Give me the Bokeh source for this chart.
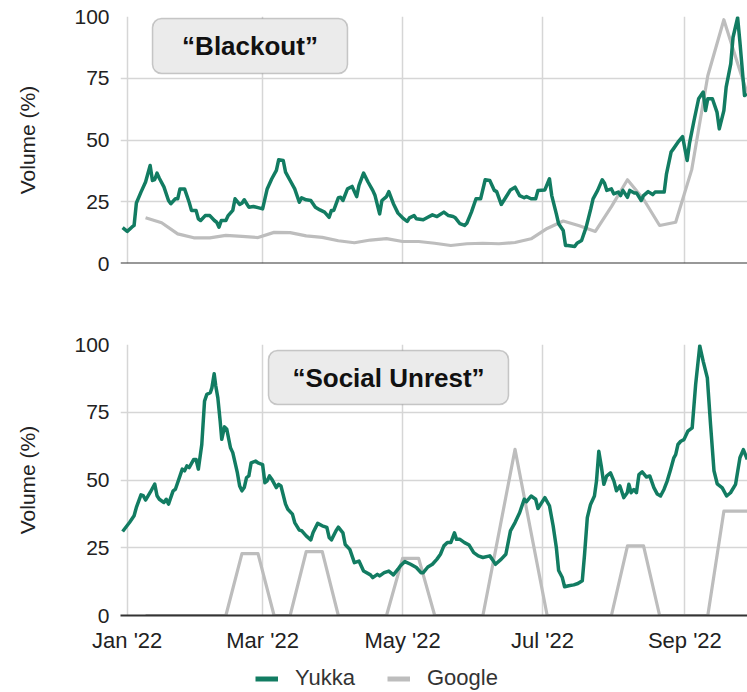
import pandas as pd
from bokeh.plotting import figure
from bokeh.models import (Range1d, FixedTicker, DatetimeTickFormatter, BoxAnnotation,
                          Label, Legend, LegendItem, ColumnDataSource, Span)
from bokeh.layouts import column
from bokeh.embed import file_html
from bokeh.resources import INLINE

# ---------------- data (days since 2022-01-01, volume %) ----------------
blackout_yukka_days = [-2, 0, 2, 3, 4, 6, 8, 10, 11, 12, 13, 14, 16, 18, 19, 21, 22, 23, 25, 27,
                       28, 30, 31, 32, 34, 36, 38, 39, 40, 41, 43, 44, 46, 47, 49, 50, 51, 53, 55, 57,
                       59, 61, 63, 65, 66, 68, 69, 71, 73, 75, 76, 78, 80, 82, 84, 86, 88, 89, 90, 92,
                       93, 94, 96, 98, 100, 101, 103, 105, 107, 108, 110, 111, 113, 114, 116, 118, 120, 122, 123, 125,
                       126, 129, 131, 133, 135, 138, 140, 142, 143, 145, 147, 148, 150, 152, 154, 156, 158, 160, 161, 163,
                       165, 167, 169, 171, 173, 174, 176, 178, 179, 182, 184, 185, 187, 188, 190, 191, 192, 195, 196, 198,
                       200, 202, 203, 205, 207, 208, 209, 211, 212, 214, 215, 216, 218, 219, 221, 222, 224, 225, 227, 229,
                       230, 232, 234, 235, 237, 238, 240, 242, 244, 245, 247, 249, 251, 252, 253, 255, 257, 258, 260, 261,
                       263, 264, 266, 267, 269, 270]
blackout_yukka_vals = [14.5, 13.0, 14.7, 15.4, 24.5, 28.9, 33.0, 39.7, 33.6, 34.0, 36.6, 34.5, 31.0, 25.5, 24.2, 26.2, 26.2, 30.2, 30.2, 24.8,
                       21.5, 21.5, 18.1, 17.4, 19.4, 19.4, 17.4, 16.7, 14.7, 17.4, 17.4, 19.4, 21.5, 26.2, 23.9, 24.4, 25.8, 22.8, 23.1, 22.6,
                       22.1, 30.2, 34.3, 37.7, 42.0, 41.7, 37.0, 33.6, 30.2, 24.8, 26.6, 25.8, 25.5, 22.8, 21.7, 20.8, 18.7, 21.5, 21.5, 26.6,
                       26.8, 25.5, 30.2, 31.2, 27.1, 31.6, 36.6, 32.9, 29.6, 27.5, 20.1, 25.5, 27.1, 29.1, 24.2, 20.4, 18.5, 17.0, 18.5, 19.4,
                       18.1, 17.7, 18.7, 19.7, 19.0, 20.8, 19.4, 19.0, 18.5, 16.1, 15.4, 16.3, 20.8, 26.2, 26.2, 33.9, 33.6, 29.6, 29.1, 23.9,
                       26.8, 29.8, 30.9, 27.5, 26.6, 27.1, 26.2, 26.2, 29.6, 29.8, 34.3, 27.5, 20.1, 16.1, 13.4, 7.3, 7.3, 6.9, 8.2, 9.3,
                       14.7, 22.1, 26.2, 29.6, 33.9, 32.5, 29.6, 30.2, 28.2, 28.9, 27.5, 29.6, 26.8, 29.6, 28.5, 28.5, 25.5, 27.5, 29.1, 27.9,
                       28.9, 28.9, 28.9, 36.3, 45.1, 46.4, 49.1, 51.4, 41.7, 48.5, 57.9, 66.7, 69.4, 61.9, 66.7, 66.7, 61.3, 54.5, 61.9, 71.4,
                       80.8, 91.6, 99.5, 89.6, 68.0, 68.7]

blackout_google_days = [8, 15, 22, 29, 36, 43, 50, 57, 64, 71, 78, 85, 92, 99, 106, 113, 120, 127, 134, 141,
                        148, 155, 162, 169, 176, 183, 190, 197, 204, 211, 218, 225, 232, 239, 246, 253, 260, 267, 274]
blackout_google_vals = [18.5, 16.5, 12.0, 10.4, 10.4, 11.4, 11.0, 10.5, 12.6, 12.5, 11.2, 10.6, 9.2, 8.4, 9.5, 10.1, 8.9, 8.9, 8.2, 7.3,
                        8.0, 8.2, 8.0, 8.5, 10.0, 14.2, 17.2, 15.3, 13.0, 23.0, 33.9, 26.0, 15.4, 16.7, 38.0, 76.0, 98.7, 78.0, 58.0]

unrest_yukka_days = [-2, 1, 3, 4, 6, 7, 8, 10, 12, 13, 14, 16, 17, 18, 20, 21, 23, 24, 25, 26,
                     27, 29, 30, 31, 32.5, 33.7, 34.7, 36.2, 36.9, 37.9, 38.6, 39.5, 40.5, 41.2, 42.4, 43.4, 45, 46, 48, 49,
                     50, 51, 52, 53, 54, 56, 57, 59, 60, 61, 62, 63, 65, 66, 67, 69, 70, 72, 73, 75,
                     76, 78, 80, 81, 83, 85, 87, 88, 89, 91, 92, 94, 95, 97, 99, 101, 103, 106, 107, 109,
                     110, 112, 114, 116, 118, 119, 121, 123.5, 126, 128, 129, 131, 133, 135, 136.5, 138, 139.5, 141, 142.6, 143.5,
                     145, 147, 149, 151, 153, 155, 158, 159, 160.5, 163, 165, 167, 169, 171, 173, 174, 176, 178, 179, 182,
                     184, 185.6, 187, 188, 189.6, 190.6, 192.4, 194.6, 196.4, 198.3, 199.3, 200.5, 201.9, 203.6, 204.5, 205.5, 206.6, 207.7, 208.9, 210.6,
                     212.1, 213.2, 214.7, 216.4, 217.9, 218.6, 219.6, 220.8, 221.9, 223, 224.4, 226.3, 227.7, 229.5, 231, 232.4, 233.9, 235.3, 236.8, 238.2,
                     239, 240, 241.2, 242.6, 244.3, 246.2, 247.7, 249.5, 251, 252.8, 254.2, 255.7, 257.1, 259.3, 261.2, 262.9, 265.1, 267, 268.5, 270.2]
unrest_yukka_vals = [31.0, 34.3, 36.8, 39.9, 44.5, 44.2, 42.6, 45.4, 48.5, 44.2, 42.9, 41.7, 42.9, 41.1, 46.0, 46.6, 51.5, 54.0, 53.4, 55.2,
                     54.6, 57.6, 57.6, 54.0, 63.1, 79.1, 81.6, 82.2, 84.0, 89.2, 84.7, 80.3, 71.8, 65.0, 69.6, 68.7, 61.9, 60.1, 52.7, 47.8,
                     46.0, 47.2, 50.9, 51.5, 56.3, 57.0, 56.3, 55.7, 49.0, 49.7, 51.5, 50.3, 47.2, 48.4, 47.8, 41.1, 39.2, 37.4, 34.3, 31.5,
                     31.3, 29.4, 27.9, 30.6, 34.0, 33.1, 32.5, 28.8, 27.9, 31.3, 32.6, 30.5, 26.2, 24.4, 19.5, 20.1, 16.4, 15.0, 14.0, 15.2,
                     14.6, 15.8, 16.4, 15.0, 17.1, 18.3, 19.9, 18.9, 17.7, 15.8, 15.8, 17.9, 18.9, 20.8, 22.6, 25.7, 26.9, 26.9, 30.5, 28.1,
                     28.1, 26.9, 26.0, 23.2, 22.0, 21.4, 22.0, 20.8, 18.9, 20.8, 22.6, 31.2, 34.3, 37.9, 42.9, 42.0, 44.1, 42.9, 39.5, 43.5,
                     40.5, 33.1, 25.1, 16.6, 14.0, 10.6, 11.0, 11.3, 11.8, 12.8, 22.6, 36.1, 41.0, 44.1, 49.6, 60.6, 55.1, 48.4, 51.4, 52.6,
                     49.6, 46.0, 47.8, 43.5, 45.3, 48.4, 45.3, 46.5, 45.3, 52.0, 53.0, 51.1, 51.5, 47.2, 44.8, 44.1, 46.5, 49.6, 53.9, 58.2,
                     59.4, 63.1, 64.3, 64.9, 68.0, 69.2, 85.2, 99.5, 93.8, 87.7, 70.4, 53.4, 48.6, 47.1, 44.1, 45.3, 48.4, 58.2, 61.2, 57.6]

unrest_google_days = [8, 15, 22, 29, 36, 43, 50, 57, 64, 71, 78, 85, 92, 99, 106, 113, 120, 127, 134, 141,
                      148, 155, 162, 169, 176, 183, 190, 197, 204, 211, 218, 225, 232, 239, 246, 253, 260, 267, 274]
unrest_google_vals = [0, 0, 0, 0, 0, 0, 22.8, 22.8, 0, 0, 23.6, 23.6, 0, 0, 0, 0, 21.1, 21.1, 0, 0,
                      0, 0, 30.6, 61.3, 30.6, 0, 0, 0, 0, 0, 25.7, 25.7, 0, 0, 0, 0, 38.5, 38.5, 38.5]

tick_dates = ["2022-01-01", "2022-03-01", "2022-05-01", "2022-07-01", "2022-09-01"]
y_ticks = [0, 25, 50, 75, 100]
panel_titles = ["\u201cBlackout\u201d", "\u201cSocial Unrest\u201d"]
series_names = ["Yukka", "Google"]

# ---------------- style ----------------
GREEN = "#127c62"
GRAY = "#bdbdbd"
GRID = "#d6d6d6"
FONT = "Liberation Sans"
TXT = "#222222"
W = 747

BASE = pd.Timestamp("2022-01-01")


def to_dates(days):
    return (BASE + pd.to_timedelta(days, unit="D")).to_numpy()


x_range = Range1d(start=(BASE + pd.Timedelta(days=-2.92)).to_pydatetime(),
                  end=(BASE + pd.Timedelta(days=270.3)).to_pydatetime())
x_ticker = FixedTicker(ticks=[pd.Timestamp(d).value // 10**6 for d in tick_dates])
y_ticker = FixedTicker(ticks=y_ticks)


def make_panel(height, border_top, border_bottom, show_xaxis):
    p = figure(width=W, height=height, x_axis_type="datetime", x_range=x_range,
               y_range=Range1d(0, 100), output_backend="svg", toolbar_location=None,
               min_border_left=120, min_border_right=0, min_border_top=border_top,
               min_border_bottom=border_bottom)
    p.outline_line_color = None
    p.background_fill_color = "white"
    p.border_fill_color = "white"
    for g, t in ((p.xgrid, x_ticker), (p.ygrid, y_ticker)):
        g.ticker = t
        g.grid_line_color = GRID
        g.grid_line_width = 1.5
    xa = p.xaxis[0]
    if show_xaxis:
        xa.ticker = x_ticker
        xa.formatter = DatetimeTickFormatter(days="%b '%y", months="%b '%y", years="%b '%y")
        xa.axis_line_color = "#333333"
        xa.axis_line_width = 2
        xa.major_tick_line_color = None
        xa.minor_tick_line_color = None
        xa.major_tick_out = 0
        xa.major_tick_in = 0
        xa.major_label_text_font = FONT
        xa.major_label_text_font_size = "22px"
        xa.major_label_text_color = TXT
        xa.major_label_standoff = 12
    else:
        xa.visible = False
        p.add_layout(Span(location=0, dimension="width", line_color="#333333", line_width=2))
    ya = p.yaxis[0]
    ya.ticker = y_ticker
    ya.axis_line_color = None
    ya.major_tick_line_color = None
    ya.minor_tick_line_color = None
    ya.major_tick_out = 0
    ya.major_tick_in = 0
    ya.major_label_standoff = 11
    ya.major_label_text_font = FONT
    ya.major_label_text_font_size = "21px"
    ya.major_label_text_color = TXT
    ya.axis_label = "Volume (%)"
    ya.axis_label_text_font = FONT
    ya.axis_label_text_font_size = "21px"
    ya.axis_label_text_font_style = "normal"
    ya.axis_label_text_color = TXT
    ya.axis_label_standoff = 32
    return p


def add_title_box(p, text, left, right, top, bottom):
    p.add_layout(BoxAnnotation(left=left, right=right, top=top, bottom=bottom,
                               left_units="screen", right_units="screen",
                               top_units="screen", bottom_units="screen",
                               fill_color="#ebebeb", fill_alpha=1.0,
                               line_color="#555555", line_width=1.5, border_radius=9))
    p.add_layout(Label(x=(left + right) / 2, y=(top + bottom) / 2, x_units="screen", y_units="screen",
                       text=text, text_font=FONT, text_font_style="bold", text_font_size="26px",
                       text_align="center", text_baseline="middle", text_color="#111111"))


# ---------------- top panel ----------------
p1 = make_panel(293, 16, 30, False)
s1g = ColumnDataSource(dict(x=to_dates(blackout_google_days), y=blackout_google_vals))
s1y = ColumnDataSource(dict(x=to_dates(blackout_yukka_days), y=blackout_yukka_vals))
p1.line("x", "y", source=s1g, color=GRAY, line_width=3.2, line_join="round")
p1.line("x", "y", source=s1y, color=GREEN, line_width=3.5, line_join="round")
add_title_box(p1, panel_titles[0], 32, 227, 245, 190)

# ---------------- bottom panel ----------------
p2 = make_panel(362, 51, 40, True)
s2g = ColumnDataSource(dict(x=to_dates(unrest_google_days), y=unrest_google_vals))
s2y = ColumnDataSource(dict(x=to_dates(unrest_yukka_days), y=unrest_yukka_vals))
p2.line("x", "y", source=s2g, color=GRAY, line_width=3.2, line_join="round")
p2.line("x", "y", source=s2y, color=GREEN, line_width=3.5, line_join="round")
add_title_box(p2, panel_titles[1], 148, 388, 265, 211)

# ---------------- legend strip (frame aligned with panels above) ----------------
p3 = figure(width=W, height=37, x_range=Range1d(0, 1), y_range=Range1d(0, 1),
            x_axis_location=None, y_axis_location=None, output_backend="svg",
            toolbar_location=None, min_border=0)
p3.grid.visible = False
p3.outline_line_color = None
p3.background_fill_color = "white"
p3.border_fill_color = "white"
# legend-only renderers: their points lie outside the strip's range, only the legend swatches show
leg_y = p3.line(x=[5, 6], y=[5, 6], color=GREEN, line_width=5)
leg_g = p3.line(x=[5, 6], y=[5, 6], color=GRAY, line_width=5)
legend = Legend(items=[LegendItem(label=series_names[0], renderers=[leg_y]),
                       LegendItem(label=series_names[1], renderers=[leg_g])],
                location=(135, 1), orientation="horizontal",
                glyph_width=23, glyph_height=25, label_height=25, label_standoff=17,
                spacing=32, padding=0, margin=0, border_line_color=None,
                background_fill_alpha=0, label_text_font=FONT, label_text_font_size="22px",
                label_text_color="#333333")
p3.add_layout(legend)

layout = column(p1, p2, p3, spacing=0)
open("out.html", "w").write(file_html(layout, INLINE))
